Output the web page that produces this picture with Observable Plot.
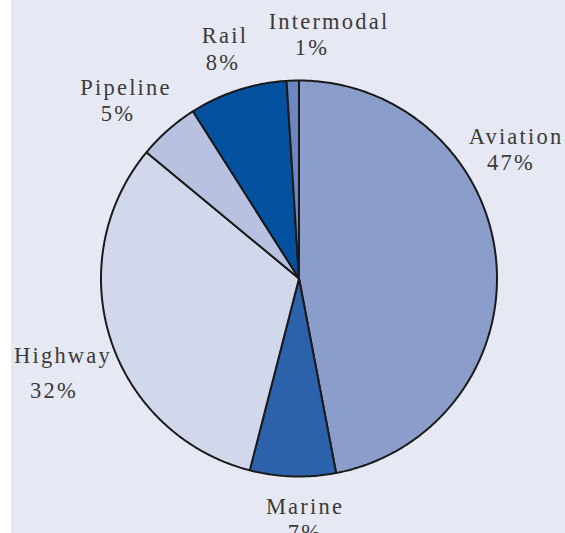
<!DOCTYPE html>
<html>
<head>
<meta charset="utf-8">
<script src="https://cdn.jsdelivr.net/npm/d3@7"></script>
<script src="https://cdn.jsdelivr.net/npm/@observablehq/plot@0.6"></script>
<style>
  html, body { margin: 0; padding: 0; background: #ffffff; }
  #chart { position: absolute; left: 11px; top: 0; }
</style>
</head>
<body>
<div id="chart"></div>
<script>
// ---- data ----
const modes = ["Aviation", "Marine", "Highway", "Pipeline", "Rail", "Intermodal"];
const shares = [47, 7, 32, 5, 8, 1];
const pctLabels = ["47%", "7%", "32%", "5%", "8%", "1%"];

// ---- styles / layout (kept separate from data) ----
const colors = ["#8a9dcb", "#2b62ab", "#d2d8eb", "#b8c2e0", "#03519f", "#6b86c1"];
// label anchor points (pixel offsets from pie centre: dx right, dy up) for name and percent lines
const labelLayout = {
  Aviation:   {name: [217, 142], pct: [212, 116]},
  Marine:     {name: [6, -228],  pct: [6, -254]},
  Highway:    {name: [-236, -77], pct: [-245, -112]},
  Pipeline:   {name: [-173, 191], pct: [-181, 165]},
  Rail:       {name: [-74, 243], pct: [-76, 216]},
  Intermodal: {name: [30, 257], pct: [13, 231]}
};

const W = 554, H = 533;
const cx = 287.5, cy = 278; // centre in svg pixels
const R = 198;

// build slice polygons from pie angles
const pie = d3.pie().sort(null).value(d => d.share);
const rows = modes.map((m, i) => ({mode: m, share: shares[i], pct: pctLabels[i]}));
const arcs = pie(rows);
const polys = [];
arcs.forEach(a => {
  const m = a.data.mode;
  polys.push({mode: m, x: 0, y: 0});
  const n = Math.max(4, Math.ceil((a.endAngle - a.startAngle) / 0.01));
  for (let k = 0; k <= n; k++) {
    const t = a.startAngle + (a.endAngle - a.startAngle) * k / n;
    polys.push({mode: m, x: R * Math.sin(t), y: R * Math.cos(t)});
  }
  polys.push({mode: m, x: 0, y: 0});
});

const labels = [];
rows.forEach(r => {
  const L = labelLayout[r.mode];
  labels.push({text: r.mode, x: L.name[0], y: L.name[1]});
  labels.push({text: r.pct, x: L.pct[0], y: L.pct[1]});
});

const chart = Plot.plot({
  width: W,
  height: H,
  margin: 0,
  style: {background: "#e6e9f3", fontFamily: "'Liberation Serif', serif"},
  x: {domain: [-cx, W - cx], range: [0, W], axis: null},
  y: {domain: [-(H - cy), cy], range: [H, 0], axis: null},
  color: {domain: modes, range: colors},
  marks: [
    Plot.line(polys, {
      x: "x", y: "y", z: "mode",
      fill: "mode",
      stroke: "#1a1a1a",
      strokeWidth: 2,
      strokeLinejoin: "miter"
    }),
    Plot.text(labels, {
      x: "x", y: "y", text: "text",
      fontSize: 22.5,
      fill: "#3a3a3a",
      textAnchor: "middle"
    })
  ]
});
chart.querySelectorAll("text").forEach(t => t.style.letterSpacing = "2.2px");
document.getElementById("chart").appendChild(chart);
</script>
</body>
</html>
